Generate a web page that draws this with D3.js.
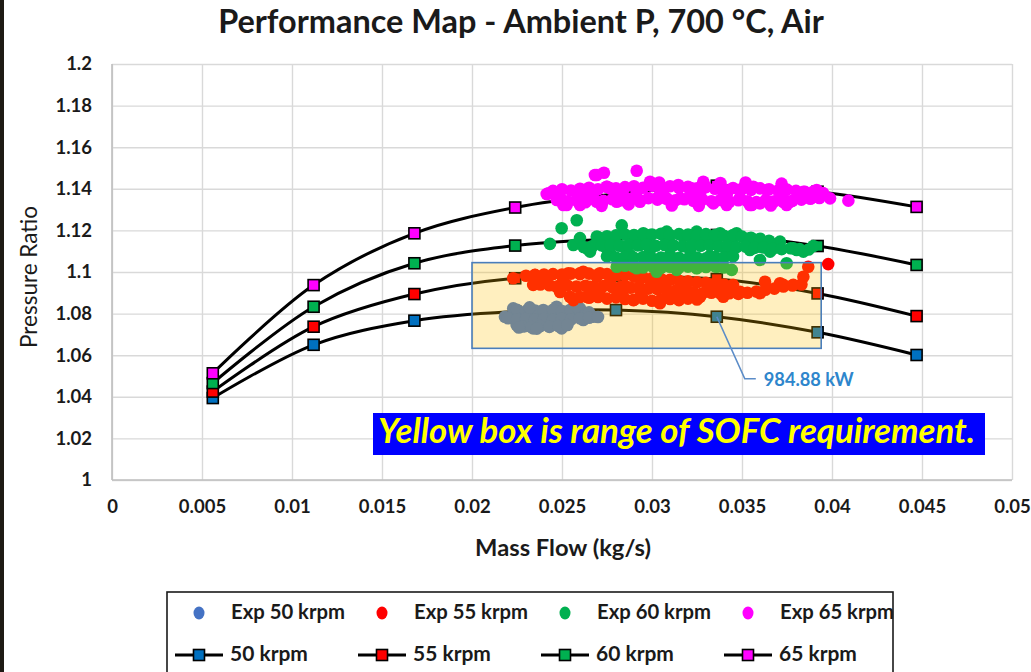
<!DOCTYPE html>
<html>
<head>
<meta charset="utf-8">
<script src="https://cdn.jsdelivr.net/npm/d3@7"></script>
<style>
  body { margin: 0; background: #fff; }
  svg { display: block; }
  text { font-family: Lato, "Open Sans", "Liberation Sans", sans-serif; }
</style>
</head>
<body>
<svg id="chart" width="1031" height="672"></svg>
<script>
// ---- Data -------------------------------------------------------------
const titleText = "Performance Map - Ambient P, 700 \u00B0C, Air";
const xTitle = "Mass Flow (kg/s)";
const yTitle = "Pressure Ratio";

const xTicks = [0, 0.005, 0.01, 0.015, 0.02, 0.025, 0.03, 0.035, 0.04, 0.045, 0.05];
const xTickLabels = ["0", "0.005", "0.01", "0.015", "0.02", "0.025", "0.03", "0.035", "0.04", "0.045", "0.05"];
const yTicks = [1, 1.02, 1.04, 1.06, 1.08, 1.1, 1.12, 1.14, 1.16, 1.18, 1.2];
const yTickLabels = ["1", "1.02", "1.04", "1.06", "1.08", "1.1", "1.12", "1.14", "1.16", "1.18", "1.2"];

// Predicted speed lines (shared mass-flow points)
const massFlow = [0.0056, 0.0112, 0.0168, 0.0224, 0.0280, 0.0336, 0.0392, 0.0447];
const pr50 = [1.0394, 1.0650, 1.0766, 1.0810, 1.0817, 1.0785, 1.0710, 1.0601];
const pr55 = [1.0425, 1.0737, 1.0894, 1.0970, 1.0980, 1.0966, 1.0897, 1.0788];
const pr60 = [1.0466, 1.0833, 1.1042, 1.1127, 1.1160, 1.1178, 1.1125, 1.1034];
const pr65 = [1.0513, 1.0937, 1.1186, 1.1310, 1.1375, 1.1415, 1.1386, 1.1313];
const lineNames = ["50 krpm", "55 krpm", "60 krpm", "65 krpm"];
const lineColors = ["#0070c0", "#ff0000", "#00b050", "#ff00ff"];

// Measured points [mass flow, pressure ratio]
const exp50 = [
  [0.02183, 1.0785], [0.02229, 1.0825], [0.02248, 1.0745], [0.02322, 1.0793],
  [0.02340, 1.0729], [0.02396, 1.0817], [0.02470, 1.0833], [0.02452, 1.0753],
  [0.02526, 1.0769], [0.02544, 1.0817], [0.02600, 1.0825], [0.02618, 1.0769],
  [0.02674, 1.0785], [0.02285, 1.0777], [0.02415, 1.0777], [0.02498, 1.0729],
  [0.02378, 1.0760], [0.02294, 1.0740], [0.02433, 1.0803], [0.02560, 1.0790],
  [0.0225, 1.0818], [0.0230, 1.0812], [0.0235, 1.0815], [0.0240, 1.0810],
  [0.0245, 1.0818], [0.0250, 1.0812], [0.0255, 1.0816], [0.0260, 1.0812],
  [0.0265, 1.0806], [0.0220, 1.0778], [0.0225, 1.0772], [0.0230, 1.0776],
  [0.0235, 1.0770], [0.0240, 1.0774], [0.0245, 1.0770], [0.0250, 1.0775],
  [0.0255, 1.0772], [0.0260, 1.0778], [0.0265, 1.0780], [0.0270, 1.0784],
  [0.0228, 1.0738], [0.0233, 1.0735], [0.0238, 1.0740], [0.0243, 1.0736],
  [0.0248, 1.0740], [0.0253, 1.0745], [0.0236, 1.0728], [0.0226, 1.0733],
  [0.0258, 1.0835], [0.0232, 1.0830]
];
const exp55 = [
  [0.02229, 1.0970], [0.02350, 1.0986], [0.02415, 1.0977], [0.02507, 1.0962],
  [0.02563, 1.0865], [0.02600, 1.0994], [0.02656, 1.0881], [0.02693, 1.0977],
  [0.02804, 1.0994], [0.02859, 1.0929], [0.02896, 1.0865], [0.03044, 1.0850],
  [0.02989, 1.0962], [0.03174, 1.0929], [0.03267, 1.0881], [0.03359, 1.0946],
  [0.03396, 1.0881], [0.03489, 1.0905], [0.03600, 1.0898], [0.03628, 1.0953],
  [0.03711, 1.0946], [0.03785, 1.0938], [0.03841, 1.0977], [0.03868, 1.1025],
  [0.03979, 1.1038], [0.02340, 1.0938], [0.02544, 1.0881], [0.02637, 1.0881],
  [0.02535, 1.0994], [0.02618, 1.1001], [0.02711, 1.0994], [0.02933, 1.0970],
  [0.03026, 1.0929], [0.02656, 1.0929], [0.02840, 1.0913], [0.02471, 1.0929],
  [0.03063, 1.0953], [0.03156, 1.0922], [0.03267, 1.0889], [0.03322, 1.0938],
  [0.03730, 1.0938], [0.02767, 1.0947], [0.02933, 1.0913], [0.03211, 1.0904],
  [0.03433, 1.0913], [0.02822, 1.0885], [0.02711, 1.0913], [0.02489, 1.0904],
  [0.0230, 1.0982], [0.0235, 1.0985], [0.0240, 1.0988], [0.0245, 1.0990],
  [0.0250, 1.0988], [0.0255, 1.0992], [0.0260, 1.0990], [0.0265, 1.0992],
  [0.0270, 1.0988], [0.0275, 1.0990], [0.0280, 1.0986], [0.0285, 1.0984],
  [0.0290, 1.0978], [0.0295, 1.0975], [0.0300, 1.0970], [0.0305, 1.0966],
  [0.0310, 1.0962], [0.0315, 1.0958], [0.0320, 1.0955], [0.0325, 1.0950],
  [0.0330, 1.0948], [0.0335, 1.0945], [0.0340, 1.0940], [0.0345, 1.0938],
  [0.0238, 1.0940], [0.0243, 1.0936], [0.0248, 1.0932], [0.0253, 1.0935],
  [0.0258, 1.0930], [0.0263, 1.0934], [0.0268, 1.0928], [0.0273, 1.0932],
  [0.0278, 1.0926], [0.0283, 1.0930], [0.0288, 1.0924], [0.0293, 1.0928],
  [0.0298, 1.0920], [0.0303, 1.0918], [0.0308, 1.0914], [0.0313, 1.0910],
  [0.0318, 1.0906], [0.0323, 1.0902], [0.0328, 1.0898], [0.0333, 1.0900],
  [0.0338, 1.0896], [0.0343, 1.0898], [0.0348, 1.0895], [0.0353, 1.0900],
  [0.0358, 1.0906], [0.0363, 1.0915], [0.0368, 1.0920], [0.0373, 1.0930],
  [0.0378, 1.0935], [0.0383, 1.0940], [0.0260, 1.0880], [0.0265, 1.0876],
  [0.0270, 1.0880], [0.0275, 1.0872], [0.0280, 1.0878], [0.0285, 1.0870],
  [0.0290, 1.0866], [0.0295, 1.0872], [0.0300, 1.0862], [0.0305, 1.0868],
  [0.0310, 1.0870], [0.0315, 1.0865], [0.0320, 1.0872], [0.0325, 1.0868]
];
const exp60 = [
  [0.02433, 1.1135], [0.02498, 1.1210], [0.02582, 1.1249], [0.02563, 1.1130],
  [0.02637, 1.1114], [0.02693, 1.1170], [0.02832, 1.1224], [0.02767, 1.1090],
  [0.02840, 1.1122], [0.02915, 1.1154], [0.02989, 1.1178], [0.03063, 1.1178],
  [0.03174, 1.1170], [0.03267, 1.1162], [0.03359, 1.1170], [0.03452, 1.1170],
  [0.03544, 1.1162], [0.03600, 1.1122], [0.03693, 1.1130], [0.03804, 1.1106],
  [0.03896, 1.1125], [0.03748, 1.1042], [0.03600, 1.1058], [0.02804, 1.1025],
  [0.02915, 1.1018], [0.03026, 1.1001], [0.03137, 1.1010], [0.03248, 1.1018],
  [0.03359, 1.1025], [0.03443, 1.1010], [0.02952, 1.1186], [0.03082, 1.1194],
  [0.03248, 1.1194], [0.03378, 1.1186], [0.03470, 1.1186], [0.03711, 1.1146],
  [0.03785, 1.1114], [0.03415, 1.1090], [0.03656, 1.1098], [0.03841, 1.1098],
  [0.02656, 1.1098], [0.02748, 1.1114], [0.02878, 1.1082], [0.02989, 1.1106],
  [0.03100, 1.1082], [0.03211, 1.1106], [0.03322, 1.1077], [0.02989, 1.1048],
  [0.03211, 1.1048], [0.03544, 1.1106], [0.03100, 1.1139], [0.03322, 1.1135],
  [0.02933, 1.1130], [0.02711, 1.1144], [0.02600, 1.1163], [0.02822, 1.1058],
  [0.0270, 1.1168], [0.0275, 1.1172], [0.0280, 1.1176], [0.0285, 1.1180],
  [0.0290, 1.1178], [0.0295, 1.1182], [0.0300, 1.1180], [0.0305, 1.1184],
  [0.0310, 1.1178], [0.0315, 1.1182], [0.0320, 1.1180], [0.0325, 1.1176],
  [0.0330, 1.1182], [0.0335, 1.1178], [0.0340, 1.1174], [0.0345, 1.1178],
  [0.0350, 1.1170], [0.0355, 1.1165], [0.0360, 1.1160], [0.0365, 1.1150],
  [0.0262, 1.1120], [0.0267, 1.1125], [0.0272, 1.1128], [0.0277, 1.1130],
  [0.0282, 1.1126], [0.0287, 1.1130], [0.0292, 1.1128], [0.0297, 1.1132],
  [0.0302, 1.1126], [0.0307, 1.1130], [0.0312, 1.1128], [0.0317, 1.1124],
  [0.0322, 1.1130], [0.0327, 1.1126], [0.0332, 1.1128], [0.0337, 1.1124],
  [0.0342, 1.1126], [0.0347, 1.1120], [0.0352, 1.1122], [0.0357, 1.1116],
  [0.0362, 1.1118], [0.0367, 1.1112], [0.0372, 1.1110], [0.0377, 1.1114],
  [0.0382, 1.1110], [0.0387, 1.1108], [0.0275, 1.1075], [0.0280, 1.1070],
  [0.0285, 1.1072], [0.0290, 1.1068], [0.0295, 1.1072], [0.0300, 1.1066],
  [0.0305, 1.1070], [0.0310, 1.1064], [0.0315, 1.1068], [0.0320, 1.1065],
  [0.0325, 1.1070], [0.0330, 1.1066], [0.0335, 1.1072], [0.0340, 1.1070],
  [0.0345, 1.1075], [0.0285, 1.1030], [0.0290, 1.1025], [0.0295, 1.1022],
  [0.0300, 1.1028], [0.0305, 1.1020], [0.0310, 1.1025], [0.0315, 1.1022],
  [0.0320, 1.1026], [0.0325, 1.1020], [0.0330, 1.1024], [0.0335, 1.1028],
  [0.0340, 1.1022]
];
const exp65 = [
  [0.02415, 1.1375], [0.02471, 1.1346], [0.02507, 1.1322], [0.02582, 1.1386],
  [0.02656, 1.1394], [0.02693, 1.1466], [0.02733, 1.1477], [0.02767, 1.1402],
  [0.02840, 1.1394], [0.02915, 1.1487], [0.02989, 1.1434], [0.03063, 1.1394],
  [0.03146, 1.1418], [0.03211, 1.1394], [0.03285, 1.1426], [0.03341, 1.1330],
  [0.03396, 1.1386], [0.03489, 1.1394], [0.03554, 1.1322], [0.03563, 1.1410],
  [0.03637, 1.1394], [0.03730, 1.1354], [0.03748, 1.1322], [0.03832, 1.1378],
  [0.03915, 1.1394], [0.03989, 1.1354], [0.04091, 1.1343], [0.02424, 1.1378],
  [0.02489, 1.1362], [0.02526, 1.1322], [0.02683, 1.1466], [0.02748, 1.1410],
  [0.02915, 1.1386], [0.02600, 1.1322], [0.02693, 1.1338], [0.02804, 1.1338],
  [0.02933, 1.1338], [0.03026, 1.1354], [0.03082, 1.1354], [0.03156, 1.1354],
  [0.03220, 1.1402], [0.03230, 1.1354], [0.03285, 1.1434], [0.03415, 1.1370],
  [0.03415, 1.1322], [0.03544, 1.1322], [0.03600, 1.1330], [0.03656, 1.1338],
  [0.03767, 1.1338], [0.03841, 1.1386], [0.03915, 1.1362], [0.02822, 1.1365],
  [0.02633, 1.1356], [0.03267, 1.1375], [0.03489, 1.1357], [0.03044, 1.1370],
  [0.0245, 1.1390], [0.0250, 1.1398], [0.0255, 1.1392], [0.0260, 1.1400],
  [0.0265, 1.1405], [0.0270, 1.1398], [0.0275, 1.1410], [0.0280, 1.1402],
  [0.0285, 1.1408], [0.0290, 1.1412], [0.0295, 1.1405], [0.0300, 1.1415],
  [0.0305, 1.1410], [0.0310, 1.1412], [0.0315, 1.1405], [0.0320, 1.1410],
  [0.0325, 1.1402], [0.0330, 1.1408], [0.0335, 1.1400], [0.0340, 1.1398],
  [0.0345, 1.1404], [0.0350, 1.1400], [0.0355, 1.1395], [0.0360, 1.1402],
  [0.0365, 1.1398], [0.0370, 1.1392], [0.0375, 1.1396], [0.0380, 1.1390],
  [0.0385, 1.1385], [0.0390, 1.1388], [0.0395, 1.1380], [0.0248, 1.1350],
  [0.0253, 1.1340], [0.0258, 1.1345], [0.0263, 1.1335], [0.0268, 1.1348],
  [0.0273, 1.1342], [0.0278, 1.1350], [0.0283, 1.1345], [0.0288, 1.1352],
  [0.0293, 1.1346], [0.0298, 1.1355], [0.0303, 1.1348], [0.0308, 1.1352],
  [0.0313, 1.1345], [0.0318, 1.1350], [0.0323, 1.1342], [0.0328, 1.1348],
  [0.0333, 1.1340], [0.0338, 1.1346], [0.0343, 1.1338], [0.0348, 1.1345],
  [0.0353, 1.1340], [0.0358, 1.1336], [0.0363, 1.1344], [0.0368, 1.1340],
  [0.0373, 1.1336], [0.0378, 1.1342], [0.0383, 1.1348], [0.0388, 1.1352],
  [0.0393, 1.1356], [0.0272, 1.1318], [0.0287, 1.1325], [0.0311, 1.1320],
  [0.0326, 1.1318], [0.0366, 1.1320], [0.0304, 1.1430], [0.0338, 1.1428],
  [0.0352, 1.1430], [0.0372, 1.1425]
];
const expNames = ["Exp 50 krpm", "Exp 55 krpm", "Exp 60 krpm", "Exp 65 krpm"];
const expColors = ["#4472c4", "#ff0000", "#00b050", "#ff00ff"];

// SOFC requirement window and labelled operating point
const sofcFlow = [0.0200, 0.0394];
const sofcPR = [1.0633, 1.1045];
const powerLabel = "984.88 kW";
const powerPointIndex = 5;   // on the 50 krpm line
const noteText = "Yellow box is range of SOFC requirement.";

// ---- Layout -------------------------------------------------------------
const svg = d3.select("#chart");
const W = 1031, H = 672;
const plot = { left: 112, top: 64, width: 900, height: 416 };

svg.append("rect").attr("width", W).attr("height", H).attr("fill", "#fff");
// dark strip along the left edge of the slide
svg.append("rect").attr("x", 0).attr("y", 0).attr("width", 4).attr("height", H).attr("fill", "#1e1a14");

const x = d3.scaleLinear().domain([0, 0.05]).range([plot.left, plot.left + plot.width]);
const y = d3.scaleLinear().domain([1, 1.2]).range([plot.top + plot.height, plot.top]);

function fitWidth(sel, target) {
  const len = sel.node().getComputedTextLength();
  const fs = parseFloat(sel.attr("font-size"));
  sel.attr("font-size", fs * target / len);
  return sel;
}

// ---- Grid & axes --------------------------------------------------------
const gx = svg.append("g")
  .attr("transform", `translate(0,${plot.top + plot.height})`)
  .call(d3.axisBottom(x).tickValues(xTicks)
    .tickFormat((d, i) => xTickLabels[i])
    .tickSize(-plot.height).tickSizeOuter(0).tickPadding(20));
const gy = svg.append("g")
  .attr("transform", `translate(${plot.left},0)`)
  .call(d3.axisLeft(y).tickValues(yTicks)
    .tickFormat((d, i) => yTickLabels[i])
    .tickSize(-plot.width).tickSizeOuter(0).tickPadding(20));

[gx, gy].forEach(g => {
  g.select(".domain").remove();
  g.selectAll(".tick line").attr("stroke", "#d9d9d9").attr("stroke-width", 1.4);
  g.selectAll(".tick text")
    .attr("fill", "#1a1a1a").attr("font-size", 18.5).attr("font-weight", "bold")
    .style("font-family", "Lato, 'Open Sans', sans-serif");
});
// axis lines
svg.append("line")
  .attr("x1", plot.left).attr("x2", plot.left)
  .attr("y1", plot.top).attr("y2", plot.top + plot.height)
  .attr("stroke", "#bfbfbf").attr("stroke-width", 1.6);
svg.append("line")
  .attr("x1", plot.left).attr("x2", plot.left + plot.width)
  .attr("y1", plot.top + plot.height).attr("y2", plot.top + plot.height)
  .attr("stroke", "#bfbfbf").attr("stroke-width", 1.6);

// ---- Titles -------------------------------------------------------------
fitWidth(svg.append("text")
  .attr("x", 521).attr("y", 33).attr("text-anchor", "middle")
  .attr("font-size", 26).attr("font-weight", "bold").attr("fill", "#1a1a1a")
  .text(titleText), 606);

fitWidth(svg.append("text")
  .attr("x", 563).attr("y", 556).attr("text-anchor", "middle")
  .attr("font-size", 17).attr("font-weight", "bold").attr("fill", "#1a1a1a")
  .text(xTitle), 176);

fitWidth(svg.append("text")
  .attr("transform", "translate(37,277) rotate(-90)").attr("text-anchor", "middle")
  .attr("font-size", 17).attr("fill", "#1a1a1a")
  .text(yTitle), 142);

// ---- Speed lines --------------------------------------------------------
const lineSeries = [pr50, pr55, pr60, pr65];
const lineGen = d3.line()
  .x(d => x(d[0])).y(d => y(d[1]))
  .curve(d3.curveCatmullRom.alpha(0.5));
const mSize = 11;

lineSeries.forEach((pr, i) => {
  const pts = massFlow.map((m, j) => [m, pr[j]]);
  const g = svg.append("g");
  g.append("path").attr("d", lineGen(pts))
    .attr("fill", "none").attr("stroke", "#000").attr("stroke-width", 3);
  g.selectAll("rect").data(pts).join("rect")
    .attr("x", d => x(d[0]) - mSize / 2).attr("y", d => y(d[1]) - mSize / 2)
    .attr("width", mSize).attr("height", mSize)
    .attr("fill", lineColors[i]).attr("stroke", "#000").attr("stroke-width", 1.6);
});

// ---- Measured points ----------------------------------------------------
[exp50, exp55, exp60, exp65].forEach((pts, i) => {
  svg.append("g").selectAll("circle").data(pts).join("circle")
    .attr("cx", d => x(d[0])).attr("cy", d => y(d[1])).attr("r", 6.3)
    .attr("fill", expColors[i]);
});

// ---- SOFC requirement window (translucent overlay) ----------------------
svg.append("rect")
  .attr("x", x(sofcFlow[0])).attr("y", y(sofcPR[1]))
  .attr("width", x(sofcFlow[1]) - x(sofcFlow[0]))
  .attr("height", y(sofcPR[0]) - y(sofcPR[1]))
  .attr("fill", "#ffc000").attr("fill-opacity", 0.25)
  .attr("stroke", "#4a7ebb").attr("stroke-width", 1.6);

// ---- Power callout ------------------------------------------------------
const px = x(massFlow[powerPointIndex]), py = y(pr50[powerPointIndex]);
svg.append("polyline")
  .attr("points", `${px},${py} ${px + 28},${py + 62} ${px + 39},${py + 62}`)
  .attr("fill", "none").attr("stroke", "#5b8cc8").attr("stroke-width", 1.6);
fitWidth(svg.append("text")
  .attr("x", px + 47).attr("y", py + 69)
  .attr("font-size", 17).attr("font-weight", "bold").attr("fill", "#2e86cc")
  .text(powerLabel), 90);

// ---- Note box -----------------------------------------------------------
svg.append("rect")
  .attr("x", 373).attr("y", 413).attr("width", 612).attr("height", 42)
  .attr("fill", "#0000ff");
fitWidth(svg.append("text")
  .attr("x", 378).attr("y", 443)
  .attr("font-size", 26).attr("font-weight", "bold").attr("font-style", "italic")
  .attr("fill", "#ffff00")
  .text(noteText), 597);

// ---- Legend -------------------------------------------------------------
const legend = svg.append("g");
legend.append("rect")
  .attr("x", 167).attr("y", 592).attr("width", 726).attr("height", 100)
  .attr("fill", "#fff").attr("stroke", "#1a1a1a").attr("stroke-width", 1.6);
const colX = [199, 382, 565, 748];
expNames.forEach((name, i) => {
  legend.append("ellipse").attr("cx", colX[i]).attr("cy", 613)
    .attr("rx", 5.5).attr("ry", 6.5).attr("fill", expColors[i]);
  fitWidth(legend.append("text")
    .attr("x", colX[i] + 32).attr("y", 619)
    .attr("font-size", 16).attr("font-weight", "bold").attr("fill", "#1a1a1a")
    .text(name), 114);
});
lineNames.forEach((name, i) => {
  legend.append("line")
    .attr("x1", colX[i] - 24).attr("x2", colX[i] + 24)
    .attr("y1", 655).attr("y2", 655)
    .attr("stroke", "#000").attr("stroke-width", 3);
  legend.append("rect")
    .attr("x", colX[i] - 5.5).attr("y", 655 - 5.5).attr("width", 11).attr("height", 11)
    .attr("fill", lineColors[i]).attr("stroke", "#000").attr("stroke-width", 1.6);
  fitWidth(legend.append("text")
    .attr("x", colX[i] + 31).attr("y", 661)
    .attr("font-size", 16).attr("font-weight", "bold").attr("fill", "#1a1a1a")
    .text(name), 78);
});
</script>
</body>
</html>
